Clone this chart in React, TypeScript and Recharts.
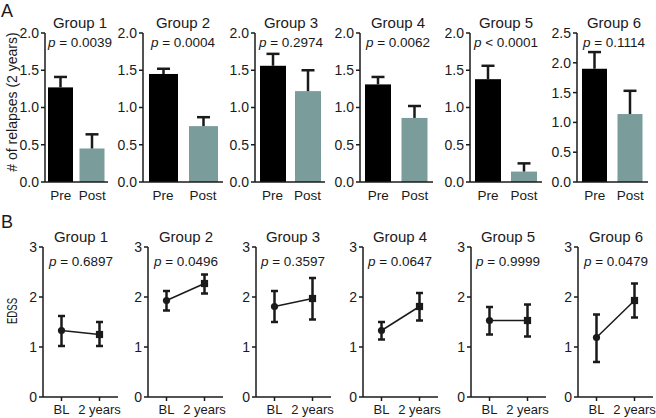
import React from 'react';
import { BarChart, Bar, XAxis, YAxis, Cell, LineChart, Line, ErrorBar } from 'recharts';

const FONT = '"Liberation Sans", Arial, Helvetica, sans-serif';
const INK = '#1a1a1a';
const TEAL = '#7a9c9b';

// ---------- data ----------
const groupNames = ['Group 1', 'Group 2', 'Group 3', 'Group 4', 'Group 5', 'Group 6'];

const relapseCategories = ['Pre', 'Post'];
const relapsePre = [1.27, 1.45, 1.56, 1.31, 1.38, 1.9];
const relapsePreSem = [0.14, 0.07, 0.16, 0.1, 0.18, 0.28];
const relapsePost = [0.45, 0.75, 1.22, 0.86, 0.14, 1.14];
const relapsePostSem = [0.19, 0.12, 0.28, 0.16, 0.11, 0.39];
const relapsePText = ['= 0.0039', '= 0.0004', '= 0.2974', '= 0.0062', '< 0.0001', '= 0.1114'];
const relapseTicks = [0, 0.5, 1, 1.5, 2];
const relapseTicksWide = [0, 0.5, 1, 1.5, 2, 2.5];

const edssCategories = ['BL', '2 years'];
const edssBL = [1.33, 1.93, 1.81, 1.33, 1.53, 1.19];
const edssBLLow = [1.02, 1.73, 1.5, 1.15, 1.25, 0.7];
const edssBLHigh = [1.62, 2.12, 2.12, 1.5, 1.8, 1.65];
const edss2y = [1.25, 2.27, 1.97, 1.81, 1.53, 1.93];
const edss2yLow = [1.02, 2.07, 1.55, 1.53, 1.21, 1.59];
const edss2yHigh = [1.5, 2.45, 2.38, 2.08, 1.85, 2.27];
const edssPText = ['= 0.6897', '= 0.0496', '= 0.3597', '= 0.0647', '= 0.9999', '= 0.0479'];
const edssTicks = [0, 1, 2, 3];

// ---------- layout ----------
const topAxisX = [45, 143, 255, 360, 470, 577];
const topPlotW = [63, 80, 70, 73, 72, 71];
const topBarW = [25, 29, 26, 26, 26, 25];
const topTextX = [80, 183, 291, 398, 506, 614];
const botAxisX = [43, 148, 256, 363, 471, 578];
const botPlotW = 75;
const botTextX = [81, 186, 293, 400, 508, 616];

const BarWithErr = (props: any) => {
  const { x, y, width, height, fill, payload } = props;
  const ppu = payload.value ? height / payload.value : 0;
  const cx = x + width / 2;
  const yTop = y - payload.sem * ppu;
  return (
    <g>
      <rect x={x} y={y} width={width} height={height} fill={fill} />
      <line x1={cx} x2={cx} y1={y} y2={yTop} stroke={INK} strokeWidth={2.5} />
      <line x1={cx - 6.5} x2={cx + 6.5} y1={yTop} y2={yTop} stroke={INK} strokeWidth={2.5} />
    </g>
  );
};

const EdssDot = (props: any) => {
  const { cx, cy, index } = props;
  if (cx == null || cy == null) return null;
  if (index === 0) return <circle key={`d${index}`} cx={cx} cy={cy} r={3.6} fill={INK} />;
  return <rect key={`d${index}`} x={cx - 3.6} y={cy - 3.6} width={7.2} height={7.2} fill={INK} />;
};

const axisProps = {
  axisLine: { stroke: INK, strokeWidth: 1.5 },
  tickLine: { stroke: INK, strokeWidth: 1.5 },
};

function TopPanel({ i }: { i: number }) {
  const data = [
    { cat: relapseCategories[0], value: relapsePre[i], sem: relapsePreSem[i] },
    { cat: relapseCategories[1], value: relapsePost[i], sem: relapsePostSem[i] },
  ];
  const ticks = i === 5 ? relapseTicksWide : relapseTicks;
  const w = 40 + topPlotW[i] + 4;
  return (
    <div style={{ position: 'absolute', left: topAxisX[i] - 40, top: 0 }}>
      <BarChart width={w} height={212} data={data} margin={{ top: 33, right: 4, bottom: 0, left: 0 }} barCategoryGap={0} barGap={0}>
        <XAxis dataKey="cat" height={30} {...axisProps} tickLine={false} tickSize={4} tickMargin={4}
          tick={{ fill: INK, fontSize: 13.5, fontFamily: FONT }} interval={0} />
        <YAxis width={40} domain={[0, ticks[ticks.length - 1]]} ticks={ticks} {...axisProps} tickSize={4} tickMargin={2}
          tickFormatter={(v: number) => v.toFixed(1)} tick={{ fill: INK, fontSize: 14, fontFamily: FONT }} interval={0} />
        <Bar dataKey="value" barSize={topBarW[i]} isAnimationActive={false} shape={BarWithErr}>
          <Cell fill="#000" />
          <Cell fill={TEAL} />
        </Bar>
      </BarChart>
    </div>
  );
}

function BottomPanel({ i }: { i: number }) {
  const data = [
    { cat: edssCategories[0], mean: edssBL[i], err: [edssBL[i] - edssBLLow[i], edssBLHigh[i] - edssBL[i]] },
    { cat: edssCategories[1], mean: edss2y[i], err: [edss2y[i] - edss2yLow[i], edss2yHigh[i] - edss2y[i]] },
  ];
  const w = 40 + botPlotW + 5;
  return (
    <div style={{ position: 'absolute', left: botAxisX[i] - 40, top: 200 }}>
      <LineChart width={w} height={218} data={data} margin={{ top: 47, right: 5, bottom: 0, left: 0 }}>
        <XAxis dataKey="cat" height={21} {...axisProps} tickSize={4} tickMargin={4} padding={{ left: 18.5, right: 18.5 }}
          tick={{ fill: INK, fontSize: 13, fontFamily: FONT }} interval={0} />
        <YAxis width={40} domain={[0, 3]} ticks={edssTicks} {...axisProps} tickSize={4} tickMargin={2}
          tick={{ fill: INK, fontSize: 14, fontFamily: FONT }} interval={0} />
        <Line dataKey="mean" stroke={INK} strokeWidth={1.5} isAnimationActive={false} dot={EdssDot} activeDot={false}>
          <ErrorBar dataKey="err" direction="y" width={3.5} strokeWidth={2.5} stroke={INK} isAnimationActive={false} />
        </Line>
      </LineChart>
    </div>
  );
}

export default function App() {
  const idx = [0, 1, 2, 3, 4, 5];
  return (
    <div style={{ position: 'absolute', left: 0, top: 0, width: 656, height: 418, background: '#fff', overflow: 'hidden', fontFamily: FONT }}>
      {idx.map((i) => <TopPanel key={`t${i}`} i={i} />)}
      {idx.map((i) => <BottomPanel key={`b${i}`} i={i} />)}
      <svg width={656} height={418} style={{ position: 'absolute', left: 0, top: 0, pointerEvents: 'none' }}>
        <g fontFamily={FONT} fill={INK}>
          <text x={1} y={17} fontSize={18}>A</text>
          <text x={1} y={228} fontSize={18}>B</text>
          <text x={0} y={0} fontSize={14} textAnchor="middle" dominantBaseline="central" transform="translate(12,102) rotate(-90)">
            # of relapses (2 years)
          </text>
          <text x={0} y={0} fontSize={14} textAnchor="middle" dominantBaseline="central" textLength={26} lengthAdjust="spacingAndGlyphs" transform="translate(12,311) rotate(-90)">
            EDSS
          </text>
          {idx.map((i) => (
            <g key={`tt${i}`}>
              <text x={topTextX[i]} y={28} fontSize={15} textAnchor="middle">{groupNames[i]}</text>
              <text x={topTextX[i]} y={47} fontSize={13.5} textAnchor="middle">
                <tspan fontStyle="italic">p</tspan>{' ' + relapsePText[i]}
              </text>
              <text x={botTextX[i]} y={242} fontSize={15} textAnchor="middle">{groupNames[i]}</text>
              <text x={botTextX[i]} y={266} fontSize={13.5} textAnchor="middle">
                <tspan fontStyle="italic">p</tspan>{' ' + edssPText[i]}
              </text>
            </g>
          ))}
        </g>
      </svg>
    </div>
  );
}
